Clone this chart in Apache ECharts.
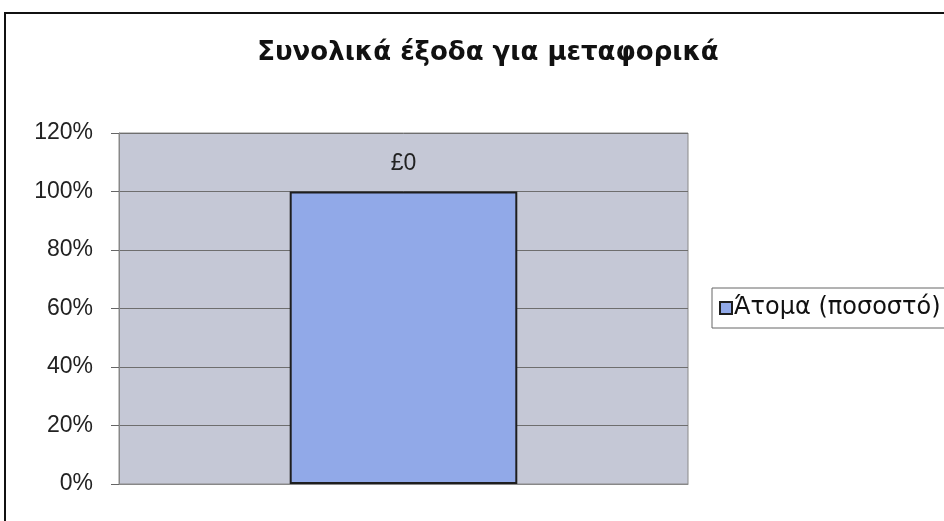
<!DOCTYPE html>
<html>
<head>
<meta charset="utf-8">
<script src="https://cdn.jsdelivr.net/npm/echarts@6/dist/echarts.min.js"></script>
<style>
  html, body { margin: 0; padding: 0; background: #ffffff; }
  #chart { width: 944px; height: 521px; }
</style>
</head>
<body>
<div id="chart"></div>
<script>
// chart data
const categories = [""];
const seriesName = "Άτομα (ποσοστό)";
const values = [1.0];
const valueLabels = ["£0"];
const yTicks = [0, 0.2, 0.4, 0.6, 0.8, 1.0, 1.2];

var chartDom = document.getElementById("chart");
var myChart = echarts.init(chartDom);

const option = {
  backgroundColor: "#ffffff",
  animation: false,
  title: {
    text: "Συνολικά έξοδα για μεταφορικά",
    left: 483,
    textAlign: "center",
    top: 35,
    textStyle: {
      fontFamily: "DejaVu Sans, Verdana, sans-serif",
      fontWeight: "bold",
      fontSize: 26,
      color: "#111",
    },
  },
  graphic: [
    {
      // outer chart border
      type: "rect",
      shape: { x: 5, y: 13, width: 960, height: 540 },
      style: { fill: "none", stroke: "#111", lineWidth: 2 },
      silent: true,
    },
  ],
  legend: {
    data: [seriesName],
    left: 712,
    top: 288,
    orient: "vertical",
    icon: "rect",
    itemWidth: 12,
    itemHeight: 12,
    itemGap: 0,
    padding: [8, 8, 8, 7],
    borderColor: "#666",
    borderWidth: 1,
    backgroundColor: "#ffffff",
    textStyle: {
      fontFamily: "DejaVu Sans, Verdana, sans-serif",
      fontSize: 24,
      color: "#111",
      padding: [0, 0, 0, -3],
    },
  },
  grid: {
    left: 119,
    right: 256,
    top: 133,
    bottom: 37,
    show: true,
    backgroundColor: "#c5c8d6",
    borderColor: "#8a8a8a",
    borderWidth: 1,
  },
  xAxis: {
    type: "category",
    data: categories,
    axisLine: { show: true, lineStyle: { color: "#888" } },
    axisTick: { show: false },
    axisLabel: { show: false },
  },
  yAxis: {
    type: "value",
    min: 0,
    max: yTicks[yTicks.length - 1],
    interval: 0.2,
    axisLine: { show: true, lineStyle: { color: "#888" } },
    axisTick: { show: true, length: 8, lineStyle: { color: "#666" } },
    axisLabel: {
      margin: 26,
      fontFamily: "Liberation Sans, Arial, sans-serif",
      fontSize: 23,
      color: "#222",
      formatter: function (v) {
        return Math.round(v * 100) + "%";
      },
    },
    splitLine: { show: true, lineStyle: { color: "#6e6e6e", width: 1 } },
  },
  series: [
    {
      name: seriesName,
      type: "bar",
      barWidth: "40%",
      data: values,
      itemStyle: {
        color: "#91a9e8",
        borderColor: "#1e1e1e",
        borderWidth: 2,
      },
      label: {
        show: true,
        position: "top",
        distance: 16,
        fontFamily: "Liberation Sans, Arial, sans-serif",
        fontSize: 23,
        color: "#222",
        formatter: function (p) {
          return valueLabels[p.dataIndex];
        },
      },
    },
  ],
};

option && myChart.setOption(option);
</script>
</body>
</html>
